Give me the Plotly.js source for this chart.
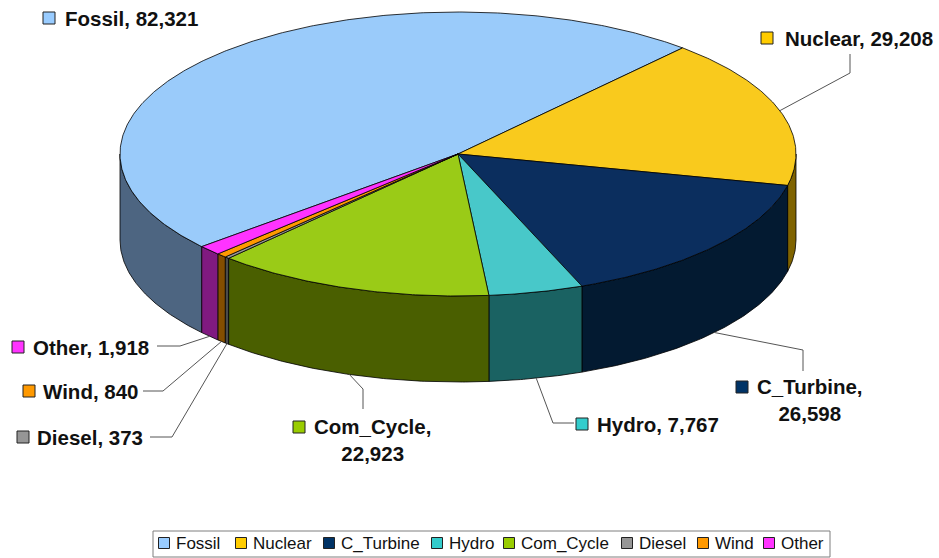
<!DOCTYPE html>
<html>
<head>
<meta charset="utf-8">
<script src="https://cdn.plot.ly/plotly-3.0.1.min.js"></script>
<style>html,body{margin:0;padding:0;background:#fff;}#chart{width:939px;height:558px;}</style>
</head>
<body>
<div id="chart"></div>
<script>
// ---- data ----
const categories = ['Fossil', 'Nuclear', 'C_Turbine', 'Hydro', 'Com_Cycle', 'Diesel', 'Wind', 'Other'];
const values = [82321, 29208, 26598, 7767, 22923, 373, 840, 1918];

// ---- styles ----
const topColors = ['#9ACBFA', '#F9CA1D', '#0B2E5E', '#48C8C9', '#9ACB17', '#969696', '#FF9900', '#FF33FF'];
const sideColors = ['#4D6581', '#7F6300', '#031A31', '#1A6262', '#4A5F00', '#4B4B4B', '#844E00', '#801A80'];
const swatchColors = ['#99CCFF', '#FFCC00', '#003366', '#33CCCC', '#99CC00', '#969696', '#FF9900', '#FF33FF'];

// ---- geometry (pixels) ----
const W = 939, H = 558;
const cx = 458, cy = 154, ra = 338, rb = 142, depth = 86;
const firstAngle = 229.3; // clockwise from 12 o'clock

// label layout: text anchor, swatch centre, leader elbows (from label side toward pie)
const labelLayout = {
  Fossil:    {tx: 63,  ty: 18,  anchor: 'left',   sx: 49,  sy: 18,  br: false, elbows: null},
  Nuclear:   {tx: 783, ty: 38,  anchor: 'left',   sx: 767, sy: 38,  br: false, elbows: [[850, 54], [850, 73]]},
  C_Turbine: {tx: 810, ty: 400, anchor: 'center', sx: 742, sy: 387, br: true,  elbows: [[803, 371], [803, 350]]},
  Hydro:     {tx: 595, ty: 424, anchor: 'left',   sx: 582, sy: 424, br: false, elbows: [[574, 423], [553, 423]]},
  Com_Cycle: {tx: 372, ty: 440, anchor: 'center', sx: 299, sy: 427, br: true,  elbows: [[363, 409], [363, 389]]},
  Diesel:    {tx: 35,  ty: 437, anchor: 'left',   sx: 23,  sy: 437, br: false, elbows: [[150, 437], [172, 437]]},
  Wind:      {tx: 41,  ty: 391, anchor: 'left',   sx: 29,  sy: 391, br: false, elbows: [[143, 391], [163, 391]]},
  Other:     {tx: 31,  ty: 347, anchor: 'left',   sx: 18,  sy: 347, br: false, elbows: [[157, 346], [180, 346]]}
};

// legend layout
const legendBox = {x0: 153, y0: 531, x1: 830, y1: 557};
const legendSwatchX = [164, 241, 329, 437, 509, 627, 703, 769];
const legendTextX = [174, 251, 339, 447, 519, 637, 713, 779];
const legendY = 543;

function pt(phi, dy) {
  const th = (90 - phi) * Math.PI / 180;
  return [cx + ra * Math.cos(th), cy - rb * Math.sin(th) + dy];
}
function arc(p0, p1, dy) {
  const pts = [];
  const n = Math.max(2, Math.ceil(Math.abs(p1 - p0) / 0.5));
  for (let i = 0; i <= n; i++) pts.push(pt(p0 + (p1 - p0) * i / n, dy));
  return pts;
}

const total = values.reduce((s, v) => s + v, 0);
const slices = [];
let acc = firstAngle;
values.forEach((v, i) => {
  const span = v / total * 360;
  slices.push({i, p0: acc, p1: acc + span, mid: acc + span / 2});
  acc += span;
});

const traces = [];
// side walls (front half only)
slices.forEach(s => {
  for (let k = 0; k < 3; k++) {
    const lo = Math.max(s.p0, 90 + 360 * k), hi = Math.min(s.p1, 270 + 360 * k);
    if (hi > lo) {
      const pts = arc(lo, hi, 0).concat(arc(hi, lo, depth));
      pts.push(pts[0]);
      traces.push({
        type: 'scatter', mode: 'lines', fill: 'toself', fillcolor: sideColors[s.i],
        x: pts.map(p => p[0]), y: pts.map(p => p[1]),
        line: {color: '#000', width: 0.8}, hoverinfo: 'skip', showlegend: false
      });
    }
  }
});
// top faces
slices.forEach(s => {
  const pts = [[cx, cy]].concat(arc(s.p0, s.p1, 0));
  pts.push([cx, cy]);
  traces.push({
    type: 'scatter', mode: 'lines', fill: 'toself', fillcolor: topColors[s.i],
    x: pts.map(p => p[0]), y: pts.map(p => p[1]),
    line: {color: '#000', width: 0.8}, hoverinfo: 'skip', showlegend: false,
    name: categories[s.i]
  });
});
// leader lines
slices.forEach(s => {
  const L = labelLayout[categories[s.i]];
  if (!L.elbows) return;
  const m = ((s.mid % 360) + 360) % 360;
  const front = m > 90 && m < 270;
  const end = pt(s.mid, front ? depth : 0);
  const pts = L.elbows.concat([end]);
  traces.push({
    type: 'scatter', mode: 'lines', x: pts.map(p => p[0]), y: pts.map(p => p[1]),
    line: {color: '#555', width: 1}, hoverinfo: 'skip', showlegend: false
  });
});

const annotations = [];
const shapes = [];
const fmt = v => v.toLocaleString('en-US');
categories.forEach((c, i) => {
  const L = labelLayout[c];
  annotations.push({
    x: L.tx, y: L.ty, xref: 'x', yref: 'y', xanchor: L.anchor, yanchor: 'middle',
    align: 'center', showarrow: false,
    text: '<b>' + c + ',' + (L.br ? '<br>' : ' ') + fmt(values[i]) + '</b>',
    font: {family: 'Liberation Sans, Arial, sans-serif', size: 20.5, color: '#111'}
  });
  shapes.push({type: 'rect', xref: 'x', yref: 'y', x0: L.sx - 6, x1: L.sx + 6, y0: L.sy - 6, y1: L.sy + 6,
    fillcolor: swatchColors[i], line: {color: '#222', width: 1}});
});
// legend
shapes.push({type: 'rect', xref: 'x', yref: 'y', x0: legendBox.x0, x1: legendBox.x1, y0: legendBox.y0, y1: legendBox.y1,
  fillcolor: 'rgba(0,0,0,0)', line: {color: '#7f7f7f', width: 1}});
categories.forEach((c, i) => {
  shapes.push({type: 'rect', xref: 'x', yref: 'y', x0: legendSwatchX[i] - 5.5, x1: legendSwatchX[i] + 5.5,
    y0: legendY - 5.5, y1: legendY + 5.5, fillcolor: swatchColors[i], line: {color: '#222', width: 1}});
  annotations.push({x: legendTextX[i], y: legendY, xref: 'x', yref: 'y', xanchor: 'left', yanchor: 'middle',
    showarrow: false, text: c, font: {family: 'Liberation Sans, Arial, sans-serif', size: 17, color: '#111'}});
});

const layout = {
  width: W, height: H, margin: {l: 0, r: 0, t: 0, b: 0},
  paper_bgcolor: '#fff', plot_bgcolor: '#fff', showlegend: false,
  xaxis: {range: [0, W], visible: false, fixedrange: true},
  yaxis: {range: [H, 0], visible: false, fixedrange: true},
  annotations, shapes
};
Plotly.newPlot('chart', traces, layout, {displayModeBar: false, staticPlot: true});
</script>
</body>
</html>
